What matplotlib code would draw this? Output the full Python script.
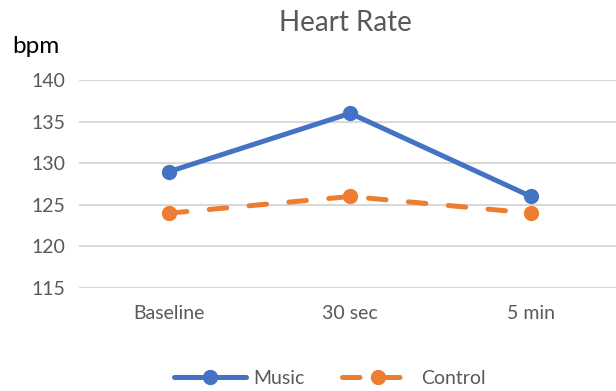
import matplotlib.pyplot as plt

categories = ['Baseline', '30 sec', '5 min']
music = [129, 136, 126]
control = [124, 126, 124]
yticks = [115, 120, 125, 130, 135, 140]

plt.rcParams['font.family'] = ['Lato', 'DejaVu Sans']

fig = plt.figure(figsize=(6.16, 3.91), dpi=100)
ax = fig.add_axes([79 / 616, 103 / 391, 1 - 79 / 616, 208 / 391])

x = range(len(categories))
ax.plot(x, music, color='#4472C4', lw=3.6, marker='o', ms=10,
        solid_capstyle='round', label='Music', zorder=3)
ax.plot(x, control, color='#ED7D31', lw=3.6, marker='o', ms=10,
        dashes=(3.5, 4.5), dash_capstyle='round', label='Control', zorder=3)

ax.set_xlim(-0.5, 2.47)
ax.set_ylim(115, 140)
ax.set_yticks(yticks)
ax.set_xticks(list(x))
ax.set_xticklabels(categories)
ax.grid(axis='y', color='#D9D9D9', lw=1.5)
ax.set_axisbelow(True)
for s in ax.spines.values():
    s.set_visible(False)
ax.tick_params(length=0, labelsize=14, labelcolor='#595959', pad=10)
ax.tick_params(axis='x', pad=12)

fig.text(0.56, 0.94, 'Heart Rate', ha='center', va='center', fontsize=20, color='#595959')
fig.text(0.02, 0.88, 'bpm', ha='left', va='center', fontsize=17.5, color='black')

ax.legend(loc='center', bbox_to_anchor=(0.467, -0.435), ncol=2, frameon=False,
          fontsize=14, labelcolor='#595959', handlelength=3.7, columnspacing=1.9,
          handletextpad=0.4)

fig.savefig('out.png', dpi=100)
